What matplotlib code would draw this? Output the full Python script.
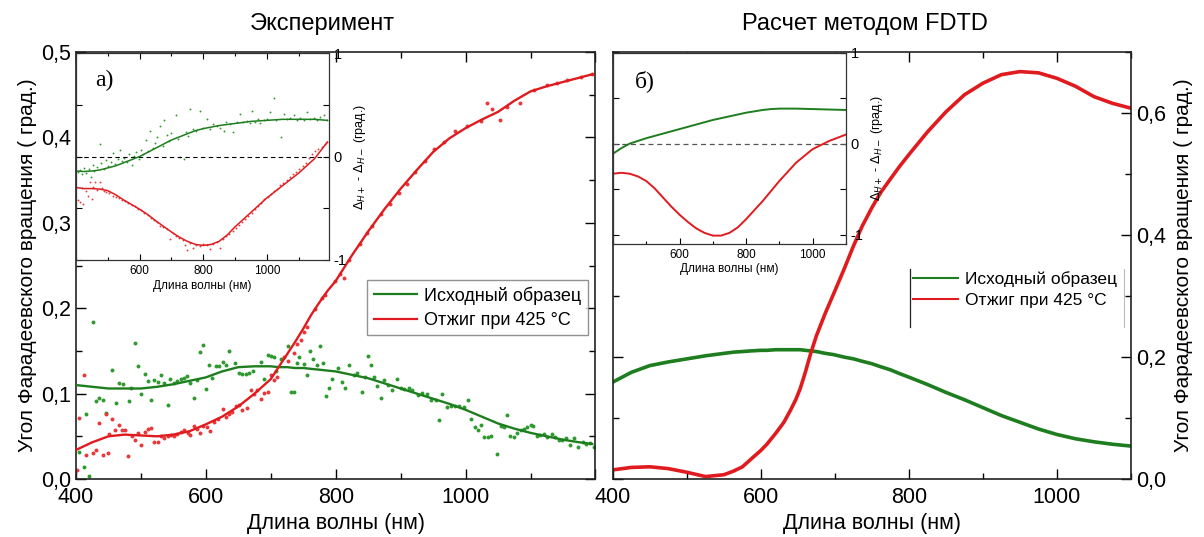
import matplotlib
matplotlib.use("Agg")
import matplotlib.pyplot as plt
from matplotlib.ticker import MultipleLocator, FuncFormatter

plt.rcParams["font.family"] = ["Liberation Sans", "DejaVu Sans"]
plt.rcParams["mathtext.fontset"] = "dejavusans"

# ---------------- experiment, main panel ----------------
WL_EXP = [400, 425, 450, 475, 500, 525, 550, 575, 600, 625, 650, 675, 700,
          712, 725, 737, 750, 762, 775, 787, 800, 825, 850, 875, 900, 925,
          950, 975, 1000, 1025, 1050, 1075, 1100, 1125, 1150, 1175, 1195]
FIT_GREEN = [0.110, 0.108, 0.106, 0.106, 0.106, 0.108, 0.111, 0.115, 0.119,
             0.126, 0.131, 0.132, 0.132, 0.131, 0.131, 0.130, 0.130, 0.129,
             0.128, 0.127, 0.126, 0.122, 0.118, 0.112, 0.106, 0.100, 0.094,
             0.088, 0.081, 0.073, 0.065, 0.059, 0.054, 0.050, 0.046, 0.043, 0.041]
FIT_RED = [0.034, 0.043, 0.050, 0.052, 0.051, 0.050, 0.052, 0.056, 0.064,
           0.073, 0.085, 0.100, 0.117, 0.131, 0.146, 0.160, 0.176, 0.192,
           0.207, 0.220, 0.232, 0.262, 0.290, 0.316, 0.340, 0.362, 0.383,
           0.399, 0.411, 0.421, 0.430, 0.443, 0.454, 0.460, 0.465, 0.470, 0.474]

PTS_GREEN_X = [405, 412, 420, 415, 426, 431, 436, 441, 446, 456, 462, 467, 472,
               482, 485, 491, 496, 500, 506, 511, 515, 520, 527, 531, 536, 541,
               545, 551, 556, 562, 567, 571, 576, 581, 586, 591, 595, 600, 605,
               610, 615, 620, 626, 631, 636, 645, 651, 656, 662, 667, 672, 685,
               690, 695, 700, 705, 708, 715, 726, 731, 735, 740, 744, 751, 755,
               760, 765, 771, 776, 781, 785, 790, 795, 803, 810, 815, 821, 828,
               833, 840, 845, 850, 855, 859, 864, 869, 875, 880, 887, 895, 900,
               905, 913, 918, 926, 933, 941, 946, 954, 959, 964, 972, 977, 983,
               990, 997, 1004, 1009, 1014, 1019, 1024, 1029, 1034, 1039, 1049,
               1054, 1059, 1063, 1069, 1075, 1079, 1085, 1090, 1095, 1100, 1104,
               1110, 1115, 1121, 1126, 1133, 1138, 1144, 1149, 1154, 1160, 1167,
               1173, 1180, 1185, 1192, 1197]
PTS_GREEN_Y = [0.032, 0.014, 0.004, 0.076, 0.184, 0.091, 0.095, 0.093, 0.077,
               0.128, 0.089, 0.113, 0.111, 0.091, 0.106, 0.159, 0.132, 0.100,
               0.123, 0.115, 0.093, 0.116, 0.114, 0.122, 0.113, 0.087, 0.117,
               0.112, 0.115, 0.117, 0.118, 0.121, 0.113, 0.095, 0.116, 0.149,
               0.157, 0.105, 0.133, 0.118, 0.132, 0.132, 0.137, 0.134, 0.150,
               0.136, 0.124, 0.123, 0.123, 0.124, 0.126, 0.137, 0.117, 0.145,
               0.144, 0.143, 0.126, 0.141, 0.156, 0.102, 0.102, 0.136, 0.143,
               0.135, 0.122, 0.150, 0.140, 0.134, 0.156, 0.136, 0.097, 0.106,
               0.117, 0.130, 0.114, 0.106, 0.134, 0.122, 0.124, 0.102, 0.120,
               0.144, 0.134, 0.120, 0.109, 0.095, 0.116, 0.110, 0.104, 0.117,
               0.106, 0.105, 0.106, 0.104, 0.098, 0.101, 0.100, 0.093, 0.093,
               0.069, 0.100, 0.084, 0.086, 0.086, 0.086, 0.084, 0.093, 0.070,
               0.061, 0.057, 0.063, 0.049, 0.049, 0.050, 0.029, 0.062, 0.061,
               0.075, 0.050, 0.049, 0.054, 0.057, 0.059, 0.061, 0.063, 0.062,
               0.050, 0.052, 0.053, 0.049, 0.053, 0.049, 0.046, 0.046, 0.048,
               0.040, 0.048, 0.038, 0.043, 0.041, 0.042, 0.037]

PTS_RED_X = [401, 405, 412, 415, 426, 431, 436, 441, 446, 450, 451, 456, 460,
             466, 471, 476, 480, 486, 491, 496, 500, 506, 511, 515, 520, 526,
             531, 536, 541, 546, 551, 556, 562, 567, 572, 576, 581, 586, 591,
             596, 602, 607, 612, 618, 626, 631, 636, 641, 646, 651, 656, 664,
             669, 674, 679, 685, 690, 695, 700, 705, 710, 720, 726, 736, 741,
             746, 751, 756, 768, 779, 784, 799, 807, 812, 821, 838, 848, 856,
             869, 884, 897, 910, 922, 938, 951, 966, 984, 1002, 1023, 1033,
             1041, 1053, 1064, 1084, 1105, 1125, 1141, 1156, 1177, 1195]
PTS_RED_Y = [0.011, 0.071, 0.122, 0.028, 0.030, 0.034, 0.066, 0.028, 0.076,
             0.030, 0.053, 0.070, 0.057, 0.063, 0.057, 0.057, 0.027, 0.050,
             0.046, 0.054, 0.040, 0.055, 0.059, 0.060, 0.043, 0.043, 0.050,
             0.048, 0.050, 0.052, 0.050, 0.053, 0.055, 0.057, 0.054, 0.052,
             0.062, 0.058, 0.054, 0.062, 0.061, 0.056, 0.067, 0.070, 0.082,
             0.073, 0.076, 0.079, 0.085, 0.087, 0.081, 0.083, 0.104, 0.100,
             0.104, 0.094, 0.101, 0.102, 0.122, 0.116, 0.119, 0.143, 0.138,
             0.147, 0.158, 0.163, 0.172, 0.178, 0.199, 0.212, 0.216, 0.232,
             0.240, 0.236, 0.256, 0.275, 0.288, 0.296, 0.310, 0.322, 0.335,
             0.346, 0.360, 0.372, 0.387, 0.395, 0.408, 0.413, 0.419, 0.440,
             0.433, 0.421, 0.436, 0.440, 0.456, 0.462, 0.464, 0.467, 0.471, 0.474]

# ---------------- experiment, inset (difference) ----------------
WL_INS_EXP = [400, 425, 450, 475, 500, 525, 550, 575, 600, 625, 650, 675, 700,
              725, 750, 775, 800, 825, 850, 875, 900, 950, 1000, 1050, 1100,
              1150, 1190]
INS_EXP_GREEN = [-0.14, -0.145, -0.14, -0.13, -0.11, -0.09, -0.06, -0.03, 0.0,
                 0.04, 0.08, 0.12, 0.16, 0.19, 0.22, 0.25, 0.27, 0.285, 0.30,
                 0.31, 0.32, 0.34, 0.35, 0.36, 0.36, 0.36, 0.35]
INS_EXP_RED = [-0.30, -0.31, -0.31, -0.315, -0.33, -0.37, -0.42, -0.465, -0.51,
               -0.56, -0.62, -0.675, -0.73, -0.78, -0.82, -0.85, -0.86, -0.85,
               -0.82, -0.76, -0.68, -0.54, -0.40, -0.28, -0.16, -0.02, 0.14]

INS_PTS_GREEN_X = [405, 412, 418, 425, 432, 440, 446, 452, 458, 465, 474, 480,
                   488, 495, 502, 510, 517, 524, 531, 538, 545, 552, 559, 566,
                   575, 583, 590, 597, 603, 610, 619, 626, 634, 641, 648, 655,
                   665, 672, 676, 686, 693, 700, 713, 720, 728, 738, 745, 752,
                   759, 769, 778, 790, 800, 811, 822, 832, 843, 852, 864, 873,
                   884, 895, 905, 916, 926, 936, 946, 954, 964, 972, 979, 990,
                   1000, 1011, 1022, 1030, 1043, 1053, 1062, 1072, 1085, 1095,
                   1105, 1116, 1127, 1137, 1148, 1158, 1168, 1179, 1188]
INS_PTS_GREEN_Y = [-0.15, -0.13, -0.17, -0.11, -0.16, -0.12, -0.20, -0.08,
                   -0.14, -0.10, 0.12, -0.06, -0.12, -0.03, -0.09, -0.05, 0.03,
                   -0.07, -0.02, 0.06, -0.04, -0.01, -0.05, 0.02, -0.08, 0.01,
                   0.04, -0.02, 0.06, 0.02, 0.16, 0.05, 0.25, 0.08, 0.13, 0.19,
                   0.30, 0.10, 0.35, 0.21, 0.15, 0.23, 0.40, 0.17, 0.00, -0.02,
                   0.24, 0.20, 0.46, 0.27, 0.25, 0.44, 0.28, 0.36, 0.27, 0.31,
                   0.30, 0.28, 0.25, 0.33, 0.31, 0.24, 0.33, 0.41, 0.33, 0.34,
                   0.32, 0.44, 0.33, 0.36, 0.32, 0.35, 0.36, 0.43, 0.57, 0.35,
                   0.19, 0.41, 0.36, 0.37, 0.40, 0.35, 0.37, 0.35, 0.43, 0.36,
                   0.37, 0.35, 0.38, 0.40, 0.35]
INS_PTS_RED_X = [405, 413, 418, 423, 430, 439, 444, 449, 455, 460, 467, 475,
                 481, 488, 495, 505, 515, 525, 535, 545, 555, 565, 575, 585,
                 595, 605, 615, 625, 635, 645, 655, 665, 675, 685, 697, 705,
                 715, 725, 735, 742, 749, 758, 769, 778, 790, 800, 811, 822,
                 832, 843, 853, 862, 872, 882, 892, 902, 912, 922, 932, 942,
                 952, 962, 972, 982, 992, 1002, 1012, 1022, 1032, 1042, 1052,
                 1062, 1072, 1082, 1092, 1102, 1112, 1122, 1132, 1142, 1152,
                 1162, 1172, 1182, 1190]
INS_PTS_RED_Y = [-0.42, -0.44, -0.30, -0.46, -0.33, -0.38, -0.25, -0.41,
                 -0.29, -0.25, -0.32, -0.25, -0.30, -0.33, -0.34, -0.35, -0.38,
                 -0.39, -0.40, -0.42, -0.43, -0.45, -0.47, -0.48, -0.51, -0.52,
                 -0.55, -0.57, -0.59, -0.61, -0.63, -0.67, -0.68, -0.70, -0.80,
                 -0.74, -0.77, -0.79, -0.81, -0.86, -0.90, -0.84, -0.88, -0.86,
                 -0.87, -0.85, -0.86, -0.89, -0.85, -0.83, -0.88, -0.80, -0.77,
                 -0.75, -0.72, -0.69, -0.66, -0.63, -0.60, -0.58, -0.55, -0.51,
                 -0.48, -0.45, -0.41, -0.39, -0.36, -0.33, -0.31, -0.28, -0.26,
                 -0.23, -0.20, -0.17, -0.15, -0.12, -0.09, -0.06, -0.01, 0.02,
                 0.05, 0.07, 0.09, 0.12, 0.14]

# ---------------- FDTD, main panel ----------------
WL_FDTD = [400, 425, 450, 475, 500, 525, 550, 563, 575, 586, 600, 608, 620,
           631, 640, 647, 653, 660, 667, 675, 687, 698, 712, 725, 737, 750,
           762, 775, 787, 800, 825, 850, 875, 900, 925, 950, 975, 1000, 1025,
           1050, 1075, 1100]
FDTD_GREEN = [0.159, 0.175, 0.186, 0.192, 0.197, 0.202, 0.206, 0.208, 0.209,
              0.210, 0.211, 0.211, 0.212, 0.212, 0.212, 0.212, 0.212, 0.211,
              0.210, 0.209, 0.206, 0.204, 0.200, 0.197, 0.193, 0.189, 0.184,
              0.179, 0.173, 0.167, 0.155, 0.142, 0.130, 0.117, 0.104, 0.093,
              0.082, 0.073, 0.066, 0.061, 0.057, 0.054]
FDTD_RED = [0.015, 0.019, 0.020, 0.017, 0.011, 0.004, 0.007, 0.013, 0.020,
            0.032, 0.047, 0.057, 0.075, 0.093, 0.113, 0.130, 0.148, 0.175,
            0.205, 0.235, 0.272, 0.303, 0.343, 0.382, 0.415, 0.445, 0.470,
            0.492, 0.512, 0.532, 0.569, 0.602, 0.630, 0.649, 0.663, 0.668,
            0.666, 0.657, 0.644, 0.627, 0.616, 0.608]

# ---------------- FDTD, inset ----------------
WL_INS_FDTD = [400, 425, 450, 475, 500, 525, 550, 575, 600, 625, 650, 675, 700,
               725, 750, 775, 800, 825, 850, 875, 900, 950, 1000, 1050, 1100]
INS_FDTD_GREEN = [-0.11, -0.05, 0.0, 0.03, 0.06, 0.085, 0.11, 0.135, 0.16,
                  0.185, 0.21, 0.235, 0.26, 0.28, 0.30, 0.32, 0.34, 0.355, 0.37,
                  0.38, 0.385, 0.385, 0.38, 0.375, 0.37]
INS_FDTD_RED = [-0.33, -0.32, -0.33, -0.36, -0.41, -0.49, -0.59, -0.69, -0.78,
                -0.86, -0.93, -0.98, -1.01, -1.01, -0.98, -0.92, -0.83, -0.73,
                -0.63, -0.52, -0.41, -0.21, -0.06, 0.03, 0.10]

LABELS = ["Исходный образец", "Отжиг при 425 °C"]
C_GREEN = "#1e7d1e"
C_RED = "#e01b1f"
C_GREEN_PT = "#2f9a2f"
C_RED_PT = "#e8383a"

comma1 = FuncFormatter(lambda v, p: f"{v:.1f}".replace(".", ","))


def style_main(ax):
    ax.tick_params(which="both", direction="in", top=True, right=True,
                   labelsize=15.5, width=1.0)
    ax.tick_params(which="major", length=7)
    ax.tick_params(which="minor", length=4)
    ax.tick_params(axis="x", pad=6)
    for s in ax.spines.values():
        s.set_linewidth(1.2)
        s.set_color("#222222")


def style_inset(ax):
    ax.tick_params(which="both", direction="in", top=True, right=True,
                   labelsize=8.5, width=0.8, labelleft=False, labelright=True)
    ax.tick_params(which="major", length=4)
    ax.tick_params(which="minor", length=2.5)
    ax.tick_params(axis="y", labelsize=10.5)
    for s in ax.spines.values():
        s.set_linewidth(0.9)
        s.set_color("#333333")


fig = plt.figure(figsize=(12.04, 5.37), dpi=100)

# ======== left: experiment ========
ax1 = fig.add_axes([0.0631, 0.108, 0.4315, 0.795])
ax1.plot(WL_EXP, FIT_GREEN, color=C_GREEN, lw=1.7, zorder=3, label=LABELS[0])
ax1.plot(WL_EXP, FIT_RED, color=C_RED, lw=1.7, zorder=3, label=LABELS[1])
ax1.scatter(PTS_GREEN_X, PTS_GREEN_Y, s=8, color=C_GREEN_PT, zorder=2, lw=0)
ax1.scatter(PTS_RED_X, PTS_RED_Y, s=8, color=C_RED_PT, zorder=2, lw=0)
ax1.set_xlim(400, 1200)
ax1.set_ylim(0, 0.5)
ax1.set_xticks([400, 600, 800, 1000, 1200], ["400", "600", "800", "1000", ""])
ax1.xaxis.set_minor_locator(MultipleLocator(100))
ax1.yaxis.set_major_locator(MultipleLocator(0.1))
ax1.yaxis.set_minor_locator(MultipleLocator(0.05))
ax1.yaxis.set_major_formatter(comma1)
style_main(ax1)
ax1.set_xlabel("Длина волны (нм)", fontsize=15.5, labelpad=3)
ax1.set_ylabel("Угол Фарадеевского вращения ( град.)", fontsize=15, labelpad=3)
leg1 = ax1.legend(loc="upper right", bbox_to_anchor=(0.985, 0.466), fontsize=13,
                  frameon=True, fancybox=False, edgecolor="#777777",
                  handlelength=2.4, borderpad=0.35, labelspacing=0.4,
                  handletextpad=0.4, borderaxespad=0)
leg1.get_frame().set_linewidth(1.0)
for h in leg1.get_lines():
    h.set_linewidth(1.6)

ins1 = fig.add_axes([0.0631, 0.516, 0.2101, 0.385])
ins1.set_zorder(5)
ins1.axhline(0, color="black", lw=0.8, ls=(0, (4, 3)))
ins1.scatter(INS_PTS_GREEN_X, INS_PTS_GREEN_Y, s=1.8, color=C_GREEN_PT, lw=0)
ins1.scatter(INS_PTS_RED_X, INS_PTS_RED_Y, s=1.8, color=C_RED_PT, lw=0)
ins1.plot(WL_INS_EXP, INS_EXP_GREEN, color=C_GREEN, lw=1.1)
ins1.plot(WL_INS_EXP, INS_EXP_RED, color=C_RED, lw=1.1)
ins1.set_xlim(400, 1195)
ins1.set_ylim(-1, 1)
ins1.set_xticks([600, 800, 1000])
ins1.xaxis.set_minor_locator(MultipleLocator(100))
ins1.set_yticks([-1, -0.5, 0, 0.5, 1], ["-1", "", "0", "", "1"])
style_inset(ins1)
ins1.yaxis.set_label_position("right")
ins1.set_ylabel(r"$\Delta_{H+}$ - $\Delta_{H-}$ (град.)", fontsize=9, labelpad=4)
ins1.set_xlabel("Длина волны (нм)", fontsize=8.5, labelpad=2)
ins1.text(0.075, 0.87, "а)", transform=ins1.transAxes, fontsize=17,
          family="Liberation Serif", va="center", ha="left")

# ======== right: FDTD ========
ax2 = fig.add_axes([0.5091, 0.108, 0.4302, 0.795])
ax2.plot(WL_FDTD, FDTD_GREEN, color=C_GREEN, lw=2.6, label=LABELS[0])
ax2.plot(WL_FDTD, FDTD_RED, color=C_RED, lw=2.6, label=LABELS[1])
ax2.set_xlim(400, 1100)
ax2.set_ylim(0, 0.70)
ax2.set_xticks([400, 600, 800, 1000])
ax2.xaxis.set_minor_locator(MultipleLocator(100))
ax2.yaxis.set_major_locator(MultipleLocator(0.2))
ax2.yaxis.set_minor_locator(MultipleLocator(0.1))
ax2.yaxis.set_major_formatter(comma1)
style_main(ax2)
ax2.tick_params(axis="y", labelleft=False, labelright=True)
ax2.yaxis.set_label_position("right")
ax2.set_xlabel("Длина волны (нм)", fontsize=15.5, labelpad=3)
ax2.set_ylabel("Угол Фарадеевского вращения ( град.)", fontsize=15, labelpad=6)
leg2 = ax2.legend(loc="upper left", bbox_to_anchor=(0.572, 0.495), fontsize=12.5,
                  frameon=False, handlelength=2.6, borderpad=0.2,
                  labelspacing=0.35, handletextpad=0.4, borderaxespad=0)
for h in leg2.get_lines():
    h.set_linewidth(1.5)
ax2.plot([0.573, 0.573], [0.357, 0.493], transform=ax2.transAxes,
         color="#222222", lw=0.9)
ax2.plot([0.987, 0.987], [0.357, 0.493], transform=ax2.transAxes,
         color="#bbbbbb", lw=0.8)

ins2 = fig.add_axes([0.5091, 0.546, 0.1935, 0.356])
ins2.set_zorder(5)
ins2.axhline(0, color="#555555", lw=0.9, ls=(0, (4, 3)))
ins2.plot(WL_INS_FDTD, INS_FDTD_GREEN, color=C_GREEN, lw=1.4)
ins2.plot(WL_INS_FDTD, INS_FDTD_RED, color=C_RED, lw=1.4)
ins2.set_xlim(400, 1100)
ins2.set_ylim(-1.1, 1.0)
ins2.set_xticks([600, 800, 1000])
ins2.xaxis.set_minor_locator(MultipleLocator(100))
ins2.set_yticks([-1, -0.5, 0, 0.5, 1], ["-1", "", "0", "", "1"])
style_inset(ins2)
ins2.tick_params(top=False, which="both")
ins2.yaxis.set_label_position("right")
ins2.set_ylabel(r"$\Delta_{H+}$ - $\Delta_{H-}$ (град.)", fontsize=9, labelpad=4)
ins2.set_xlabel("Длина волны (нм)", fontsize=8.5, labelpad=2)
ins2.text(0.094, 0.85, "б)", transform=ins2.transAxes, fontsize=17,
          family="Liberation Serif", va="center", ha="left")

fig.text(0.2674, 0.955, "Эксперимент", fontsize=17, ha="center", va="center")
fig.text(0.7184, 0.955, "Расчет методом FDTD", fontsize=17, ha="center", va="center")

fig.savefig("out.png", dpi=100)
